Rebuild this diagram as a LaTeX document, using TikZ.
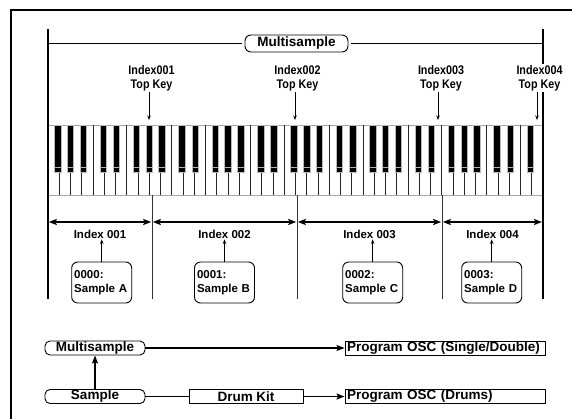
\documentclass[tikz,border=0pt]{standalone}
\usepackage{fontspec}
\setmainfont{Liberation Sans}
\newfontfamily\fnarrow{Liberation Sans}[FakeStretch=0.86]
\usetikzlibrary{arrows.meta}
\tikzset{
  frameline/.style={line width=2.2pt, line cap=rect},
  edgeline/.style={line width=1.8pt},
  sepline/.style={line width=0.9pt, black!80},
  thinline/.style={line width=0.9pt},
  keyline/.style={line width=0.8pt, black!85},
  rimline/.style={line width=0.8pt, gray!70},
  blackkey/.style={fill=black, draw=gray!55, line width=0.7pt},
  toplab/.style={font=\fnarrow\bfseries\fontsize{12.5}{14}\selectfont, align=center, inner sep=1pt},
  idxlab/.style={font=\bfseries\fontsize{11.5}{13}\selectfont, inner sep=1pt},
  sampbox/.style={draw, line width=0.9pt, rounded corners=6pt, font=\bfseries\fontsize{11.5}{14}\selectfont,
    align=left, text width=55pt, inner xsep=2.5pt, inner ysep=0pt, minimum height=41pt},
  msbox/.style={draw, line width=0.9pt, rounded corners=6pt, font=\bfseries\fontsize{13.5}{15}\selectfont,
    minimum width=103pt, minimum height=17pt, inner sep=0pt, outer xsep=3pt, fill=white},
  rbox/.style={draw, line width=0.9pt, rounded corners=5pt, font=\bfseries\fontsize{13.5}{15}\selectfont,
    minimum width=100pt, minimum height=14pt, inner sep=0pt},
  sqbox/.style={draw, line width=0.9pt, font=\bfseries\fontsize{13.5}{15}\selectfont,
    minimum height=14pt, inner ysep=0pt},
  pbox/.style={sqbox, text width=196pt, inner xsep=2pt, align=left},
  dimarrow/.style={line width=1.6pt, {Stealth[length=8pt,width=6pt,inset=1.5pt]}-{Stealth[length=8pt,width=6pt,inset=1.5pt]}},
  smallarrow/.style={line width=0.8pt, -{Stealth[length=4.5pt,width=3.5pt]}},
  flowarrow/.style={line width=1.6pt, -{Stealth[length=8pt,width=6pt,inset=1.5pt]}},
  flowline/.style={line width=1.6pt}
}
\begin{document}
\begin{tikzpicture}[x=1pt,y=-1pt]
\useasboundingbox (0,0) rectangle (572,418);
% outer frame (top and left only)
\coordinate (FB) at (11,418); \coordinate (FC) at (11,10); \coordinate (FR) at (572,10);
\draw[frameline] (FB) -- (FC) -- (FR);

% keyboard
\draw[rimline] (48,125) -- (543,125);
\draw[rimline] (48,195) -- (543,195);
\foreach \i in {1,...,43}{
  \pgfmathtruncatemacro{\m}{mod(\i,7)}
  \pgfmathsetmacro{\bx}{48+11.25*\i}
  \ifnum\m=0
    \draw[keyline] (\bx,125) -- (\bx,195);
  \else\ifnum\m=4
    \draw[keyline] (\bx,125) -- (\bx,195);
  \else
    \pgfmathsetmacro{\kx}{\bx+(\m==1)*(-1.5)+(\m==3)*1.5+(\m==5)*(-1)+(\m==6)*1}
    \draw[keyline] (\bx,172) -- (\bx,195);
    \draw[blackkey] (\kx-3.3,125) rectangle (\kx+3.3,172);
    \draw[gray!60, line width=0.5pt] (\kx-3.3,167) -- (\kx+3.3,167);
  \fi\fi
}

% long vertical edges
\coordinate (LT) at (48,29);  \coordinate (LB) at (48,299);
\coordinate (RT) at (543,29); \coordinate (RB) at (543,299);
\draw[edgeline] (LT) -- (LB);
\draw[edgeline] (RT) -- (RB);

% region separators
\coordinate (b1t) at (152,195); \coordinate (b1b) at (152,299);
\coordinate (b2t) at (297,195); \coordinate (b2b) at (297,299);
\coordinate (b3t) at (442,195); \coordinate (b3b) at (442,299);
\draw[sepline] (b1t) -- (b1b);
\draw[sepline] (b2t) -- (b2b);
\draw[sepline] (b3t) -- (b3b);

% Multisample span line
\node[msbox] (msTop) at (296.5,43.5) {Multisample};
\coordinate (ML) at (48,43.5); \coordinate (MR) at (543,43.5);
\draw[thinline] (ML) -- (msTop);
\draw[thinline] (msTop) -- (MR);

% top key labels
\node[toplab] (t1) at (151.5,78) {Index001\\Top Key};
\node[toplab] (t2) at (297.5,78) {Index002\\Top Key};
\node[toplab] (t3) at (441,78) {Index003\\Top Key};
\node[toplab, fill=white] (t4) at (539.5,78) {Index004\\Top Key};
\coordinate (k1) at (149,120); \coordinate (k2) at (295,120);
\coordinate (k3) at (438,120); \coordinate (k4) at (537,120);
\draw[smallarrow] (k1 |- t1.south) -- (k1);
\draw[smallarrow] (k2 |- t2.south) -- (k2);
\draw[smallarrow] (k3 |- t3.south) -- (k3);
\draw[smallarrow] (k4 |- t4.south) -- (k4);

% range arrows
\coordinate (d0) at (48.8,222); \coordinate (d1a) at (151.2,222);
\coordinate (d1b) at (152.8,222); \coordinate (d2a) at (296.2,222);
\coordinate (d2b) at (297.8,222); \coordinate (d3a) at (441.2,222);
\coordinate (d3b) at (442.8,222); \coordinate (d4) at (542,222);
\draw[dimarrow] (d0) -- (d1a);
\draw[dimarrow] (d1b) -- (d2a);
\draw[dimarrow] (d2b) -- (d3a);
\draw[dimarrow] (d3b) -- (d4);

% index labels
\node[idxlab] (i1) at (100,234) {Index 001};
\node[idxlab] (i2) at (224.5,234) {Index 002};
\node[idxlab] (i3) at (369.5,234) {Index 003};
\node[idxlab] (i4) at (492.5,234) {Index 004};

% sample boxes
\node[sampbox] (s1) at (101.7,282.5) {0000:\\Sample A};
\node[sampbox] (s2) at (224.5,282.5) {0001:\\Sample B};
\node[sampbox] (s3) at (372.7,282.5) {0002:\\Sample C};
\node[sampbox] (s4) at (491.7,282.5) {0003:\\Sample D};
\draw[smallarrow] (s1.north) -- (s1.north |- i1.south);
\draw[smallarrow] (s2.north) -- (s2.north |- i2.south);
\draw[smallarrow] (s3.north) -- (s3.north |- i3.south);
\draw[smallarrow] (s4.north) -- (s4.north |- i4.south);

% bottom flow
\node[rbox] (ms2) at (95,348) {Multisample};
\node[pbox] (pos1) at (445,348) {Program OSC (Single/Double)};
\node[rbox] (smp) at (95,396.5) {Sample};
\node[sqbox, minimum width=114pt] (drum) at (246,396.5) {Drum Kit};
\node[pbox] (pos2) at (445,396.5) {Program OSC (Drums)};
\draw[flowarrow] (ms2) -- (pos1);
\draw[flowarrow] (smp) -- (ms2);
\draw[flowline] (smp) -- (drum);
\draw[flowarrow] (drum) -- (pos2);
\end{tikzpicture}
\end{document}
